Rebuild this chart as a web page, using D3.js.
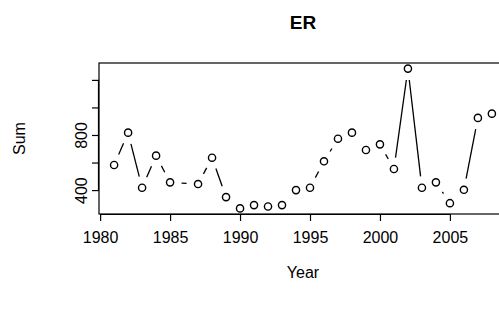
<!DOCTYPE html>
<html>
<head>
<meta charset="utf-8">
<script src="https://cdn.jsdelivr.net/npm/d3@7"></script>
<style>
  body { margin: 0; background: #fff; }
  svg { display: block; font-family: "Liberation Sans", Arial, sans-serif; }
</style>
</head>
<body>
<div id="chart"></div>
<script>
// ER sums by year (1986 has no record)
const years = [1981, 1982, 1983, 1984, 1985, 1987, 1988, 1989, 1990, 1991, 1992, 1993, 1994,
  1995, 1996, 1997, 1998, 1999, 2000, 2001, 2002, 2003, 2004, 2005, 2006, 2007, 2008];
const sums = [582, 817, 417, 650, 456, 444, 635, 349, 267, 291, 281, 291, 400,
  417, 609, 773, 817, 691, 732, 553, 1282, 417, 456, 305, 402, 924, 955];
const xTicks = [1980, 1985, 1990, 1995, 2000, 2005];
const yTicks = [400, 600, 800, 1000, 1200];
const yTickLabels = ["400", "", "800", "", ""];

const width = 499, height = 320;
const plot = { left: 99, right: 507, top: 63, bottom: 214 };

const svg = d3.select("#chart").append("svg")
  .attr("width", width)
  .attr("height", height);

// R-style 4% padding on both ranges
const xExt = d3.extent(years), yExt = d3.extent(sums);
const xPad = (xExt[1] - xExt[0]) * 0.04, yPad = (yExt[1] - yExt[0]) * 0.04;
const x = d3.scaleLinear().domain([xExt[0] - xPad, xExt[1] + xPad]).range([plot.left, plot.right]);
const y = d3.scaleLinear().domain([yExt[0] - yPad, yExt[1] + yPad]).range([plot.bottom, plot.top]);

// box
svg.append("rect")
  .attr("x", plot.left).attr("y", plot.top)
  .attr("width", plot.right - plot.left).attr("height", plot.bottom - plot.top)
  .attr("fill", "none").attr("stroke", "#000").attr("stroke-width", 1.2);

// axes
const xAxis = d3.axisBottom(x).tickValues(xTicks).tickFormat(d3.format("d")).tickSize(7).tickPadding(11);
svg.append("g")
  .attr("transform", `translate(0,${plot.bottom})`)
  .call(xAxis)
  .call(g => g.select(".domain").attr("d", `M${x(xTicks[0])},0.5H${x(xTicks[xTicks.length - 1])}`))
  .call(g => g.selectAll("text").attr("font-size", 16).attr("fill", "#000").attr("font-family", null))
  .call(g => g.selectAll("line, path").attr("stroke", "#000").attr("stroke-width", 1.2));

const yAxis = d3.axisLeft(y).tickValues(yTicks).tickFormat((d, i) => yTickLabels[i]).tickSize(7);
svg.append("g")
  .attr("transform", `translate(${plot.left},0)`)
  .call(yAxis)
  .call(g => g.select(".domain").attr("d", `M-0.5,${y(yTicks[0])}V${y(yTicks[yTicks.length - 1])}`))
  .call(g => g.selectAll("text")
    .attr("font-size", 16).attr("fill", "#000").attr("font-family", null)
    .attr("text-anchor", "middle")
    .attr("transform", "rotate(-90)")
    .attr("x", 0).attr("y", -12).attr("dy", null))
  .call(g => g.selectAll("line, path").attr("stroke", "#000").attr("stroke-width", 1.2));

// line segments with gaps around points (type = "b")
const r = 3.6, gap = 11.5;
const pts = years.map((yr, i) => [x(yr), y(sums[i])]);
for (let i = 0; i < pts.length - 1; i++) {
  const [x1, y1] = pts[i], [x2, y2] = pts[i + 1];
  const dx = x2 - x1, dy = y2 - y1, len = Math.hypot(dx, dy);
  if (len <= 2 * gap) continue;
  const ux = dx / len, uy = dy / len;
  svg.append("line")
    .attr("x1", x1 + ux * gap).attr("y1", y1 + uy * gap)
    .attr("x2", x2 - ux * gap).attr("y2", y2 - uy * gap)
    .attr("stroke", "#000").attr("stroke-width", 1.3);
}

svg.selectAll("circle.pt")
  .data(years)
  .enter().append("circle")
  .attr("class", "pt")
  .attr("cx", d => x(d))
  .attr("cy", (d, i) => y(sums[i]))
  .attr("r", r)
  .attr("fill", "none")
  .attr("stroke", "#000")
  .attr("stroke-width", 1.4);

// titles
svg.append("text")
  .attr("x", (plot.left + plot.right) / 2).attr("y", 29)
  .attr("text-anchor", "middle").attr("font-size", 19).attr("font-weight", "bold")
  .text("ER");

svg.append("text")
  .attr("x", (plot.left + plot.right) / 2).attr("y", 278)
  .attr("text-anchor", "middle").attr("font-size", 16)
  .text("Year");

svg.append("text")
  .attr("transform", `translate(25,${(plot.top + plot.bottom) / 2}) rotate(-90)`)
  .attr("text-anchor", "middle").attr("font-size", 16)
  .text("Sum");
</script>
</body>
</html>
